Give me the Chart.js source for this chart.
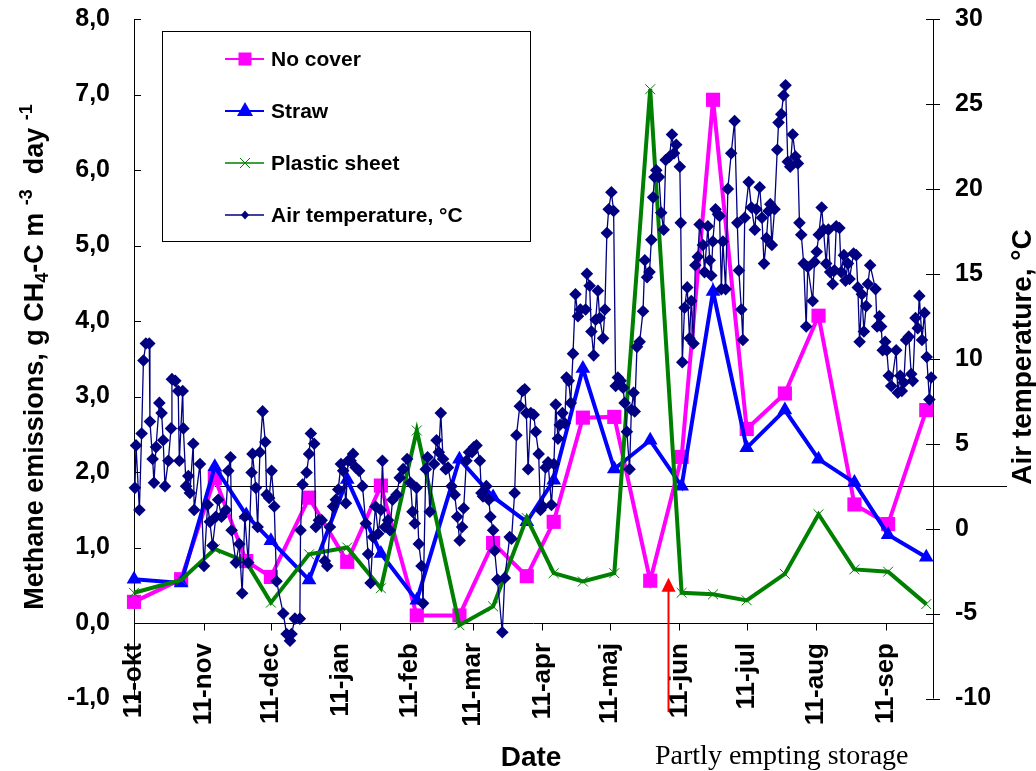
<!DOCTYPE html>
<html>
<head>
<meta charset="utf-8">
<script src="https://cdn.jsdelivr.net/npm/chart.js@4.4.0/dist/chart.umd.min.js"></script>
<style>
html, body { margin: 0; padding: 0; background: #fff; }
#wrap { width: 1036px; height: 771px; }
</style>
</head>
<body>
<div id="wrap"><canvas id="chart"></canvas></div>
<script>
/* data */
const startDate = '2001-10-11';
const axisEndDate = '2002-10-02';
const monthTickDates = ['2001-10-11','2001-11-11','2001-12-11','2002-01-11','2002-02-11','2002-03-11',
                        '2002-04-11','2002-05-11','2002-06-11','2002-07-11','2002-08-11','2002-09-11'];
const monthTickLabels = ['11-okt','11-nov','11-dec','11-jan','11-feb','11-mar',
                         '11-apr','11-maj','11-jun','11-jul','11-aug','11-sep'];

// measuring days for the three covers
const sampleDates = ['2001-10-11','2001-11-01','2001-11-16','2001-11-30','2001-12-11','2001-12-28',
                     '2002-01-14','2002-01-29','2002-02-14','2002-03-05','2002-03-20','2002-04-04',
                     '2002-04-16','2002-04-29','2002-05-13','2002-05-29','2002-06-12','2002-06-26',
                     '2002-07-11','2002-07-28','2002-08-12','2002-08-28','2002-09-12','2002-09-29'];
const noCover = [0.28, 0.58, 1.92, 0.82, 0.61, 1.66, 0.81, 1.82, 0.10, 0.10, 1.06, 0.62,
                 1.34, 2.72, 2.73, 0.56, 2.20, 6.93, 2.57, 3.04, 4.07, 1.57, 1.31, 2.82];
const straw = [0.58, 0.53, 2.07, 1.43, 1.09, 0.57, 1.90, 0.92, 0.30, 2.17, 1.67, 1.34,
               1.89, 3.37, 2.04, 2.42, 1.81, 4.39, 2.32, 2.82, 2.17, 1.86, 1.17, 0.87];
const plasticSheet = [0.40, 0.57, 0.98, 0.81, 0.27, 0.91, 1.00, 0.46, 2.55, -0.03, 0.22, 1.39,
                      0.66, 0.55, 0.66, 7.07, 0.40, 0.38, 0.30, 0.65, 1.44, 0.71, 0.68, 0.25];

// air temperature, days after 11-okt
const tempDays = [
  0.4,0.9,2.4,3.4,4.2,5.3,6.8,7.1,8.3,8.9,9.8,11.3,12.3,13.0,13.8,15.3,16.5,16.9,18.4,19.7,
  20.2,21.7,22.0,23.2,24.2,24.9,26.4,26.8,29.4,31.2,32.8,33.8,35.0,36.5,37.5,39.0,41.0,42.0,43.0,43.5,
  45.4,46.9,48.2,49.4,50.9,52.4,52.8,54.3,55.1,56.1,57.3,58.5,59.1,60.2,61.3,62.5,63.5,66.5,68.0,69.5,
  70.2,71.7,73.9,74.2,75.1,76.9,78.0,78.8,80.3,81.0,82.4,83.6,85.0,86.1,87.3,88.7,89.9,91.0,92.2,93.2,
  94.4,95.4,96.5,97.6,98.8,100.3,101.8,103.3,104.3,105.4,106.5,107.6,108.8,110.0,110.7,111.8,113.2,114.0,115.2,117.0,
  118.4,119.9,121.7,123.2,124.1,125.1,125.9,126.9,128.1,128.8,130.0,130.8,131.8,133.7,134.8,135.8,136.7,137.7,138.9,139.9,
  141.5,142.9,144.0,145.1,146.2,146.9,148.1,149.3,150.6,151.5,152.6,154.1,154.8,155.5,157.0,158.1,158.8,160.0,160.7,161.9,
  164.1,165.2,167.4,168.2,169.6,170.4,171.9,173.1,174.1,174.8,175.6,176.8,178.1,179.0,180.3,181.1,182.2,183.4,184.5,186.0,
  187.1,187.9,188.9,189.7,190.9,191.9,192.7,193.7,194.6,195.6,196.7,197.8,198.9,201.2,201.8,203.0,203.8,204.8,205.7,206.7,
  207.5,209.0,209.8,210.7,211.5,212.7,213.7,214.6,215.6,216.8,217.9,218.6,219.6,220.8,221.6,222.6,223.1,224.1,225.3,226.8,
  227.6,228.6,229.7,230.5,231.3,231.9,232.7,233.9,234.9,236.0,236.9,238.6,239.7,240.6,241.6,243.2,243.6,244.3,245.3,246.5,
  247.5,248.3,249.3,250.1,251.2,252.0,253.5,254.2,255.7,256.5,257.2,257.9,259.1,260.2,260.9,261.7,262.4,263.6,264.6,266.1,
  267.6,268.8,269.5,270.6,271.3,272.1,273.9,275.1,276.6,277.3,278.8,279.8,280.7,281.8,282.7,283.5,284.2,285.4,286.6,287.2,
  288.4,289.4,290.3,291.3,292.4,293.5,294.7,295.8,296.5,297.3,298.4,299.5,300.2,302.4,303.2,304.2,305.1,306.4,307.2,308.4,
  309.4,310.2,311.3,312.1,312.9,314.3,315.1,316.3,317.0,318.1,318.8,320.6,321.8,322.5,323.3,324.3,325.2,326.2,327.0,328.0,
  330.4,331.1,332.1,332.9,333.6,334.7,335.4,336.3,337.4,339.6,340.3,341.4,342.1,343.0,344.0,345.2,346.3,347.0,348.2,349.2,
  349.9,351.1,352.2,353.2,354.4,355.2
];
const tempValues = [
  2.4,4.9,1.1,5.6,9.9,10.9,10.9,6.3,4.1,2.7,4.8,7.4,6.8,5.2,2.5,4.0,5.9,8.8,8.7,8.1,
  4.0,8.1,5.9,2.5,3.1,2.1,5.0,1.1,3.8,-2.2,1.4,0.4,-1.0,0.7,1.7,0.7,1.1,3.4,4.2,-0.1,
  -2.0,-0.9,-3.8,0.7,-2.0,3.3,4.4,2.4,0.1,4.5,6.9,5.1,2.0,1.8,3.4,1.3,-3.1,-5.0,-6.2,-6.6,
  -6.2,-5.3,-5.3,-0.1,2.6,3.3,4.4,5.6,5.0,0.1,0.5,0.5,-1.9,-2.2,0.1,1.3,1.7,2.3,3.8,3.4,
  1.5,4.0,4.0,4.4,3.6,3.4,2.5,0.3,-1.5,-3.2,-0.5,1.3,-0.3,1.1,4.0,0.1,0.5,-0.1,1.7,2.0,
  3.0,3.5,4.1,2.7,1.0,0.3,2.4,-0.9,-2.2,-4.4,3.5,4.2,1.0,3.8,5.2,4.5,6.8,4.1,3.5,3.6,
  2.5,2.0,0.7,-0.7,0.1,1.2,4.0,4.5,4.5,4.8,4.9,4.0,2.1,1.9,2.5,1.7,0.7,-0.1,-1.3,-3.0,
  -6.1,-2.9,-0.5,-0.6,2.1,5.5,7.2,8.1,8.2,6.8,3.5,6.8,6.7,5.7,4.4,1.1,1.3,3.6,3.9,1.4,
  3.8,7.3,5.3,6.1,6.8,6.2,8.9,8.7,7.4,10.3,13.8,12.5,12.9,12.9,15.0,14.3,11.6,10.2,12.3,14.0,
  12.4,11.2,12.9,17.4,18.8,19.8,18.7,8.4,8.9,8.7,8.3,7.4,5.7,3.5,7.0,8.0,6.9,10.7,11.0,12.8,
  15.8,14.8,15.1,17.0,19.5,20.7,21.1,20.7,18.6,17.6,21.7,21.9,23.2,22.1,22.6,21.3,18.0,9.8,13.0,14.2,
  11.2,13.4,10.9,15.5,16.0,17.9,16.7,15.1,17.8,15.8,14.9,16.9,18.8,18.5,18.4,14.1,16.9,14.1,20.0,22.1,
  24.0,18.0,15.2,12.9,11.1,18.3,20.4,18.9,17.6,18.8,20.1,18.3,15.6,17.1,18.7,19.1,16.7,18.8,22.3,23.9,
  24.4,25.5,26.1,21.6,21.3,23.2,21.9,21.5,18.0,17.3,15.6,11.9,15.4,13.4,15.7,16.3,17.3,18.9,17.6,15.6,
  17.6,15.1,14.4,15.2,17.8,17.7,15.1,16.1,14.6,15.6,14.7,16.2,16.1,14.2,11.0,13.8,11.6,13.1,14.4,15.5,
  14.1,11.9,12.5,11.9,10.5,11.0,10.5,9.0,8.4,10.5,8.0,9.0,8.1,8.6,11.1,11.3,9.1,8.7,12.4,11.8,
  13.7,11.1,12.7,10.1,7.6,8.9
];

// black reference line and the arrow for the partial emptying
const refLineValue = 1.81;
const refLineFromDate = '2001-11-16';
const emptyingDate = '2002-06-06';
const arrowTipValue = 0.6;
const arrowTailValue = -1.18;

/* helpers */
const DAY = 86400000;
const t0 = Date.parse(startDate + 'T00:00:00Z');
const dayOf = (s)=>{ return (Date.parse(s + 'T00:00:00Z') - t0) / DAY; };
const monthTickDays = monthTickDates.map(dayOf);
const sampleDays = sampleDates.map(dayOf);
const toPoints = (days, vals)=>{ return days.map((d, i)=>({x: d, y: vals[i]})); };
const commaFmt = (v)=>{ return v.toFixed(1).replace('.', ','); };
const noVertPadding = (scale, w)=>{ scale.width = w; scale.paddingTop = 0; scale.paddingBottom = 0; };

const FONT = '"Liberation Sans", Arial, sans-serif';
const PINK = '#FF00FF', BLUE = '#0000FF', GREEN = '#008000', NAVY = '#000080';

/* legend entries */
const legendItems = [
    {label: 'No cover', color: PINK, marker: 'square'},
    {label: 'Straw', color: BLUE, marker: 'triangle'},
    {label: 'Plastic sheet', color: GREEN, marker: 'cross'},
    {label: 'Air temperature, \u00B0C', color: NAVY, marker: 'diamond'}
];

function drawMarker(ctx, type, x, y, color){
    ctx.save();
    ctx.fillStyle = color; ctx.strokeStyle = color;
    ctx.beginPath();
    if( type === 'square'){
        ctx.rect(x - 6.5, y - 6.5, 13, 13); ctx.fill();
    }
    else if( type === 'triangle'){
        ctx.moveTo(x, y - 9); ctx.lineTo(x + 8, y + 5); ctx.lineTo(x - 8, y + 5); ctx.closePath(); ctx.fill();
    }
    else if( type === 'cross'){
        ctx.lineWidth = 1;
        ctx.moveTo(x - 5, y - 5); ctx.lineTo(x + 5, y + 5);
        ctx.moveTo(x + 5, y - 5); ctx.lineTo(x - 5, y + 5); ctx.stroke();
    }
    else {
        ctx.moveTo(x, y - 4.5); ctx.lineTo(x + 4, y); ctx.lineTo(x, y + 4.5); ctx.lineTo(x - 4, y); ctx.closePath(); ctx.fill();
    }
    ctx.restore();
}

function drawRich(ctx, parts, cx, cy){
    ctx.save();
    ctx.translate(cx, cy);
    ctx.rotate(-Math.PI / 2);
    ctx.fillStyle = '#000';
    ctx.textBaseline = 'alphabetic';
    ctx.textAlign = 'left';
    let total = 0;
    parts.forEach((p)=>{ ctx.font = `bold ${p.size}px ${FONT}`; p.w = ctx.measureText(p.t).width; total += p.w; });
    let xx = -total / 2;
    parts.forEach((p)=>{ ctx.font = `bold ${p.size}px ${FONT}`; ctx.fillText(p.t, xx, p.dy); xx += p.w; });
    ctx.restore();
}

const decorPlugin = {
    id: 'decor',
    beforeDatasetsDraw(chart){
        const {ctx, chartArea: a, scales} = chart;
        const x = scales.x, y = scales.y, y2 = scales.y2;
        const al = (v)=>{ return Math.round(v) + 0.5; };
        const y0 = al(y.getPixelForValue(0));
        ctx.save();
        ctx.strokeStyle = '#000';
        ctx.lineWidth = 1;
        ctx.beginPath();
        ctx.moveTo(al(a.left), a.top); ctx.lineTo(al(a.left), a.bottom);
        ctx.moveTo(al(a.right), a.top); ctx.lineTo(al(a.right), a.bottom);
        ctx.moveTo(a.left, y0); ctx.lineTo(a.right, y0);
        y.ticks.forEach((t)=>{ const p = al(y.getPixelForValue(t.value)); ctx.moveTo(a.left, p); ctx.lineTo(a.left + 7, p); });
        y2.ticks.forEach((t)=>{ const p = al(y2.getPixelForValue(t.value)); ctx.moveTo(a.right - 7, p); ctx.lineTo(a.right + 7, p); });
        x.ticks.forEach((t)=>{ const p = al(x.getPixelForValue(t.value)); ctx.moveTo(p, y0); ctx.lineTo(p, y0 + 7); });
        // horizontal reference line, runs past the right axis
        const ry = al(y.getPixelForValue(refLineValue));
        ctx.moveTo(x.getPixelForValue(dayOf(refLineFromDate)), ry);
        ctx.lineTo(a.right + 74, ry);
        ctx.stroke();
        ctx.restore();
    },
    afterDraw(chart){
        const {ctx, chartArea: a, scales} = chart;
        const x = scales.x, y = scales.y;
        ctx.save();
        /* legend */
        ctx.fillStyle = '#fff';
        ctx.fillRect(162, 31, 368, 210);
        ctx.strokeStyle = '#000'; ctx.lineWidth = 1;
        ctx.strokeRect(162.5, 31.5, 368, 210);
        legendItems.forEach((it, i)=>{
            const ly = 59 + i * 52;
            ctx.strokeStyle = it.color;
            ctx.lineWidth = it.marker === 'square' || it.marker === 'triangle' ? 2 : 1.5;
            ctx.beginPath(); ctx.moveTo(225, ly); ctx.lineTo(264, ly); ctx.stroke();
            drawMarker(ctx, it.marker, 245, ly, it.color);
            ctx.fillStyle = '#000';
            ctx.font = `bold 21px ${FONT}`;
            ctx.textBaseline = 'middle'; ctx.textAlign = 'left';
            ctx.fillText(it.label, 271, ly + 1);
        });
        /* arrow for partly emptying */
        const ax = Math.round(x.getPixelForValue(dayOf(emptyingDate))) + 0.5;
        const tipY = y.getPixelForValue(arrowTipValue);
        const tailY = y.getPixelForValue(arrowTailValue);
        ctx.strokeStyle = '#FF0000'; ctx.fillStyle = '#FF0000'; ctx.lineWidth = 2;
        ctx.beginPath(); ctx.moveTo(ax, tipY + 12); ctx.lineTo(ax, tailY); ctx.stroke();
        ctx.beginPath(); ctx.moveTo(ax, tipY); ctx.lineTo(ax + 7, tipY + 14); ctx.lineTo(ax - 7, tipY + 14); ctx.closePath(); ctx.fill();
        /* axis titles */
        drawRich(ctx, [
            {t: 'Methane emissions, g CH', size: 27, dy: 0},
            {t: '4', size: 18, dy: 5},
            {t: '-C m ', size: 27, dy: 0},
            {t: '-3', size: 18, dy: -11},
            {t: '  day ', size: 27, dy: 0},
            {t: '-1', size: 18, dy: -11}
        ], 43, 357);
        drawRich(ctx, [{t: 'Air temperature, \u00B0C', size: 28, dy: 0}], 1031, 357);
        ctx.fillStyle = '#000';
        ctx.textBaseline = 'alphabetic';
        ctx.textAlign = 'center';
        ctx.font = `bold 28px ${FONT}`;
        ctx.fillText('Date', 531, 766);
        ctx.textAlign = 'left';
        ctx.font = '28px "Liberation Serif", "Times New Roman", serif';
        ctx.fillText('Partly empting storage', 655, 764);
        ctx.restore();
    }
};

/* chart */
const ctx = document.getElementById('chart').getContext('2d');
const chart = new Chart(ctx, {
    type: 'line',
    data: {
        datasets: [
            {
                label: 'Air temperature, \u00B0C',
                data: toPoints(tempDays, tempValues),
                yAxisID: 'y2',
                borderColor: NAVY, backgroundColor: NAVY,
                borderWidth: 1.3,
                pointStyle: 'rectRot', pointRadius: 6.3, pointBorderWidth: 0,
                tension: 0, clip: false
            },
            {
                label: 'Plastic sheet',
                data: toPoints(sampleDays, plasticSheet),
                yAxisID: 'y',
                borderColor: GREEN, backgroundColor: GREEN,
                borderWidth: 4,
                pointStyle: 'crossRot', pointRadius: 7, pointBorderWidth: 1,
                tension: 0, clip: false
            },
            {
                label: 'Straw',
                data: toPoints(sampleDays, straw),
                yAxisID: 'y',
                borderColor: BLUE, backgroundColor: BLUE,
                borderWidth: 4,
                pointStyle: 'triangle', pointRadius: 8.5, pointBorderWidth: 0,
                tension: 0, clip: false
            },
            {
                label: 'No cover',
                data: toPoints(sampleDays, noCover),
                yAxisID: 'y',
                borderColor: PINK, backgroundColor: PINK,
                borderWidth: 4,
                pointStyle: 'rect', pointRadius: 10, pointBorderWidth: 0,
                tension: 0, clip: false
            }
        ]
    },
    options: {
        responsive: true,
        maintainAspectRatio: false,
        animation: false,
        devicePixelRatio: 1,
        layout: { padding: { top: 19, bottom: 72.5, left: 0, right: 0 } },
        plugins: { legend: { display: false }, tooltip: { enabled: false } },
        scales: {
            x: {
                type: 'linear',
                position: { y: 0 },
                min: 0,
                max: dayOf(axisEndDate),
                grid: { display: false, drawTicks: false },
                border: { display: false },
                afterBuildTicks: (scale)=>{ scale.ticks = monthTickDays.map((d)=>({value: d})); },
                ticks: {
                    autoSkip: false,
                    minRotation: 90, maxRotation: 90,
                    padding: 20,
                    color: '#000',
                    font: { family: FONT, size: 26, weight: 'bold' },
                    callback: (v, i)=>{ return monthTickLabels[i]; }
                }
            },
            y: {
                position: 'left',
                min: -1, max: 8,
                grid: { display: false, drawTicks: false },
                border: { display: false },
                afterFit: (scale)=>{ noVertPadding(scale, 134); },
                ticks: {
                    stepSize: 1,
                    padding: 24,
                    color: '#000',
                    font: { family: FONT, size: 25, weight: 'bold' },
                    callback: (v)=>{ return commaFmt(v); }
                }
            },
            y2: {
                position: 'right',
                min: -10, max: 30,
                grid: { display: false, drawTicks: false },
                border: { display: false },
                afterFit: (scale)=>{ noVertPadding(scale, 103); },
                ticks: {
                    stepSize: 5,
                    padding: 22,
                    color: '#000',
                    font: { family: FONT, size: 25, weight: 'bold' }
                }
            }
        }
    },
    plugins: [decorPlugin]
});
</script>
</body>
</html>
